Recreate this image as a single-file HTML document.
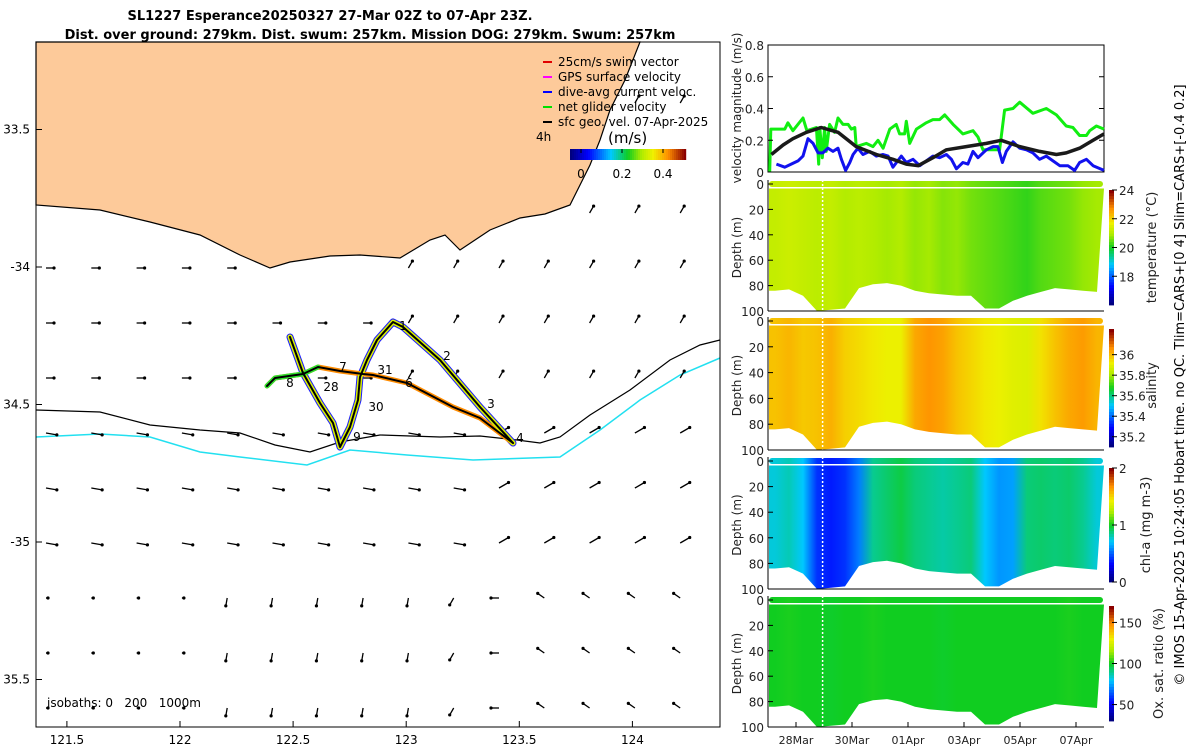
<!DOCTYPE html>
<html><head><meta charset="utf-8">
<style>
html,body{margin:0;padding:0;background:#fff;}
svg{display:block;font-family:"DejaVu Sans","Liberation Sans",sans-serif;}
</style></head>
<body>
<svg id="fig" width="1200" height="750" viewBox="0 0 1200 750" xmlns="http://www.w3.org/2000/svg">
  <defs id="defs"></defs>
  <g font-weight="bold" font-size="13" text-anchor="middle" fill="#000">
    <text x="330" y="20">SL1227 Esperance20250327 27-Mar 02Z to 07-Apr 23Z.</text>
    <text x="370" y="39">Dist. over ground: 279km. Dist. swum: 257km. Mission DOG: 279km. Swum: 257km</text>
  </g>
  <g id="map"></g>
  <g id="right"></g>
  <text transform="translate(1184,385) rotate(-90)" text-anchor="middle" font-size="13" fill="#000">© IMOS 15-Apr-2025 10:24:05 Hobart time. no QC. Tlim=CARS+[0 4] Slim=CARS+[-0.4 0.2]</text>
</svg>
<script>
// ---------- data ----------
const greenDays=[0.06,0.1,0.6,0.71,0.89,1.25,1.39,1.73,1.81,1.85,1.94,2.02,2.08,2.2,2.38,2.5,2.68,2.86,2.98,3.1,3.15,3.33,3.51,3.75,3.93,4.11,4.35,4.58,4.7,4.88,4.94,5.06,5.3,5.65,5.89,6.13,6.31,6.61,6.96,7.32,7.5,7.68,8.27,8.45,8.75,8.99,9.46,9.94,10.3,10.65,10.89,11.13,11.37,11.49,11.73,12];
const greenVals=[0,0.27,0.27,0.31,0.26,0.34,0.26,0.28,0.05,0.28,0.09,0.28,0.13,0.3,0.25,0.34,0.3,0.3,0.27,0.28,0.16,0.17,0.18,0.16,0.2,0.15,0.27,0.3,0.24,0.24,0.32,0.18,0.27,0.31,0.33,0.33,0.36,0.3,0.24,0.26,0.22,0.14,0.14,0.39,0.4,0.44,0.37,0.4,0.36,0.29,0.28,0.23,0.23,0.26,0.29,0.27];
const blueDays=[0.3,0.6,0.83,1.07,1.25,1.43,1.61,1.79,1.96,2.14,2.32,2.5,2.62,2.77,2.92,3.04,3.21,3.39,3.63,3.87,4.11,4.29,4.46,4.76,4.94,5.18,5.42,5.65,5.89,6.13,6.37,6.55,6.73,6.96,7.14,7.32,7.5,7.68,7.8,8.04,8.21,8.37,8.51,8.75,8.99,9.23,9.46,9.7,9.94,10.18,10.42,10.71,10.95,11.13,11.37,11.61,12];
const blueVals=[0.05,0.03,0.05,0.07,0.1,0.21,0.18,0.12,0.12,0.15,0.13,0.15,0.08,0.01,0.06,0.11,0.15,0.11,0.13,0.1,0.11,0.1,0.03,0.1,0.06,0.08,0.04,0.07,0.1,0.09,0.11,0.08,0.02,0.06,0.05,0.13,0.09,0.12,0.14,0.16,0.16,0.06,0.13,0.19,0.15,0.14,0.12,0.08,0.1,0.07,0.04,0.04,0.01,0.06,0.08,0.04,0.01];
const blackDays=[0.12,0.54,0.89,1.37,1.9,2.5,3.15,3.87,4.46,4.94,5.36,5.89,6.37,7.08,7.8,8.33,8.99,9.7,10.3,10.65,11.13,11.61,12];
const blackVals=[0.11,0.17,0.21,0.25,0.28,0.25,0.16,0.11,0.08,0.05,0.04,0.09,0.14,0.16,0.18,0.2,0.16,0.13,0.11,0.12,0.15,0.2,0.24];
const velTicks=[0,0.2,0.4,0.6,0.8];
const dateLabels=["28Mar","30Mar","01Apr","03Apr","05Apr","07Apr"];
const dateDays=[1,3,5,7,9,11];
const tempStripes=[21.2,21.3,21.2,21.1,21.2,21.0,21.1,21.0,20.9,21.0,20.8,20.9,20.7,20.8,20.6,20.5,20.4,20.3,20.2,20.4,20.5,20.6,20.8,20.9];
const salStripes=[36.0,36.02,35.99,36.0,36.03,35.98,35.96,35.94,35.92,35.92,36.04,36.07,36.05,36.0,35.97,35.94,35.92,35.9,35.89,35.95,36.0,36.04,36.06,36.02];
const chlStripes=[0.75,0.8,0.7,0.4,0.35,0.4,0.55,0.85,0.9,0.95,0.88,0.85,0.82,0.85,0.88,0.7,0.6,0.62,0.88,0.9,0.88,0.9,0.85,0.75];
const oxStripes=[100,101,100,100,99,100,100,101,100,100,100,100,99,100,100,100,100,100,100,100,100,101,100,100];
const bottomDepth=[84,83,88,100,99,98,82,79,78,80,84,86,87,88,88,98,98,92,88,85,82,83,84,85];
const latTicks=[-33.5,-34,-34.5,-35,-35.5];
const lonTicks=[121.5,122,122.5,123,123.5,124];

// ---------- helpers ----------
const NS="http://www.w3.org/2000/svg";
function mk(tag,attrs,parent){const e=document.createElementNS(NS,tag);for(const k in attrs)e.setAttribute(k,attrs[k]);parent.appendChild(e);return e;}
function txt(s,attrs,parent){const e=mk('text',attrs,parent);e.textContent=s;return e;}
const stops=[[0,[0,0,127]],[0.15,[0,0,255]],[0.35,[0,200,255]],[0.5,[16,205,32]],[0.62,[176,236,0]],[0.72,[240,240,0]],[0.85,[255,144,0]],[1,[139,0,0]]];
function cmap(t){t=Math.max(0,Math.min(1,t));for(let i=1;i<stops.length;i++){if(t<=stops[i][0]){const a=stops[i-1],b=stops[i];const f=(t-a[0])/(b[0]-a[0]);const c=a[1].map((v,j)=>Math.round(v+(b[1][j]-v)*f));return `rgb(${c})`;}}return 'rgb(139,0,0)';}
const defs=document.getElementById('defs');

// ---------- map ----------
const map=document.getElementById('map');
const MX0=36,MX1=720,MY0=42,MY1=727;
const lonX=l=>180+(l-122)*226.2;
const latY=l=>267+(-34-l)*275;
mk('rect',{x:MX0,y:MY0,width:MX1-MX0,height:MY1-MY0,fill:'#fff'},map);
const land=mk('path',{d:'M36,42 L640,42 L625,80 L610,110 L600,140 L590,165 L580,185 L570,205 L545,214 L520,218 L490,230 L475,240 L460,250 L445,235 L430,240 L400,258 L360,255 L330,256 L290,262 L270,268 L240,255 L200,235 L150,222 L100,210 L36,205 Z',fill:'#fdca9a',stroke:'#000','stroke-width':1.2},map);


const iso200=mk('path',{d:'M36,410 L100,412 L150,425 L200,430 L240,433 L275,445 L310,452 L340,442 L380,435 L440,437 L480,436 L517,440 L540,443 L560,437 L590,415 L630,390 L670,360 L700,345 L720,340',fill:'none',stroke:'#000','stroke-width':1.2},map);


const iso1000=mk('path',{d:'M36,437 L100,434 L150,437 L200,452 L240,457 L307,465 L350,450 L407,455 L473,460 L530,458 L560,457 L600,430 L640,400 L680,375 L720,358',fill:'none',stroke:'#22e0f0','stroke-width':1.5},map);


function coastY(x){const pts=[[36,205],[100,210],[150,222],[200,235],[240,255],[270,268],[330,256],[400,258],[430,240],[460,250],[490,230],[545,214],[570,205],[590,165],[610,110],[640,42],[720,42]];for(let i=1;i<pts.length;i++){if(x<=pts[i][0]){const a=pts[i-1],b=pts[i];return a[1]+(b[1]-a[1])*(x-a[0])/(b[0]-a[0]);}}return 42;}
const arrG=mk('g',{},map);


for(let c=0;c<15;c++){for(let r=0;r<13;r++){const x=46+c*45.3,y=708-r*55;if(y<coastY(x)+12)continue;
  let ang,len;
  if(y>560){ang=c<4?0:(c<9?100:(c<10?120:(c<11?180:-145)));len=c<4?2:8;}
  else if(y>400){ang=c<10?10:-30;len=11;}
  else{ang=c<8?0:-60;len=8;}
  const rad=ang*Math.PI/180,x2=x+len*Math.cos(rad),y2=y+len*Math.sin(rad);
  mk('line',{x1:x,y1:y,x2:x2,y2:y2,stroke:'#000','stroke-width':1.3},arrG);
  mk('circle',{cx:x2,cy:y2,r:1.6,fill:'#000'},arrG);}}
const trackPts='267,386 275,378 303,374 318,367 340,371 363,374 373,375 407,383 453,407 480,418 513,443';
const trackPts2='290,337 303,373 320,403 333,423 340,447 350,427 358,400 360,377 367,360 377,340 393,322 403,327 440,360 480,407 513,443';
const tg=mk('g',{fill:'none','stroke-linejoin':'round','stroke-linecap':'round'},map);


mk('polyline',{points:trackPts2,stroke:'#1a1aff','stroke-width':7},tg);
mk('polyline',{points:trackPts,stroke:'#ff8c00','stroke-width':5},tg);
mk('polyline',{points:trackPts2,stroke:'#d8f000','stroke-width':5},tg);
mk('polyline',{points:'267,386 275,378 303,374 318,367',stroke:'#30e030','stroke-width':5},tg);
mk('polyline',{points:trackPts,stroke:'#000','stroke-width':2},tg);
mk('polyline',{points:trackPts2,stroke:'#000','stroke-width':2},tg);
const dayLabels=[["1",403,330],["2",447,360],["3",491,408],["4",520,442],["6",409,387],["31",385,374],["7",343,371],["8",290,387],["28",331,391],["30",376,411],["9",357,441]];
for(const d of dayLabels){const t=txt(d[0],{x:d[1],y:d[2],'font-size':12,'text-anchor':'middle'},map);
  
  }
mk('rect',{x:MX0,y:MY0,width:MX1-MX0,height:MY1-MY0,fill:'none',stroke:'#000','stroke-width':1},map);
for(const l of lonTicks){const x=lonX(l);mk('line',{x1:x,y1:MY1,x2:x,y2:MY1-6,stroke:'#000'},map);
  const t=txt(String(l),{x:x,y:744,'font-size':12,'text-anchor':'middle'},map);
  
  }
for(const l of latTicks){const y=latY(l);mk('line',{x1:MX0,y1:y,x2:MX0+6,y2:y,stroke:'#000'},map);
  const t=txt(l===-34||l===-35?String(l):String(-l),{x:30,y:y+4,'font-size':12,'text-anchor':'end'},map);
  
  }
const iso=txt('isobaths: 0   200   1000m',{x:47,y:707,'font-size':12,'xml:space':'preserve',style:'white-space:pre'},map);


const lg=mk('g',{'font-size':12},map);


const legItems=[['25cm/s swim vector','#e00000'],['GPS surface velocity','#ff00ff'],['dive-avg current veloc.','#0000ff'],['net glider velocity','#00e000'],['sfc geo. vel. 07-Apr-2025','#000']];
legItems.forEach((it,i)=>{const y=66+i*15;mk('line',{x1:543,y1:y-4,x2:552,y2:y-4,stroke:it[1],'stroke-width':2},lg);const t=txt(it[0],{x:558,y:y},lg);
  
  });
txt('4h',{x:536,y:141},lg);
txt('(m/s)',{x:608,y:143,'font-size':15},lg);
for(let i=0;i<58;i++){mk('rect',{x:570+i*2,y:149,width:2.2,height:11,fill:cmap(i/57)},lg);}
[[581,'0'],[622,'0.2'],[663,'0.4']].forEach(a=>{mk('line',{x1:a[0],y1:149,x2:a[0],y2:153,stroke:'#000'},lg);txt(a[1],{x:a[0],y:178,'text-anchor':'middle'},lg);});

// ---------- right panels ----------
const R=document.getElementById('right');
const PX0=768,PX1=1104;
const dayX=d=>PX0+d*28;
const VY0=45,VY1=172;
const velY=v=>VY1-v/0.8*(VY1-VY0);
const vp=mk('g',{},R);


mk('rect',{x:PX0,y:VY0,width:PX1-PX0,height:VY1-VY0,fill:'#fff',stroke:'#000'},vp);
function series(days,vals,col,w,name){const pts=days.map((d,i)=>dayX(d).toFixed(1)+','+velY(vals[i]).toFixed(1)).join(' ');const p=mk('polyline',{points:pts,fill:'none',stroke:col,'stroke-width':w,'stroke-linejoin':'round'},vp);
  
  }
series(greenDays,greenVals,'#11ee11',3,'net-glider-velocity-line');
series(blueDays,blueVals,'#1111ee',3,'dive-avg-current-line');
series(blackDays,blackVals,'#1a1a1a',3.5,'sfc-geo-velocity-line');
for(const v of velTicks){const y=velY(v);mk('line',{x1:PX0,y1:y,x2:PX0+5,y2:y,stroke:'#000'},vp);mk('line',{x1:PX1,y1:y,x2:PX1-5,y2:y,stroke:'#000'},vp);
  const t=txt(String(v),{x:764,y:y+5,'font-size':12,'text-anchor':'end',fill:'#222'},vp);
  
  }
txt('velocity magnitude (m/s)',{transform:'translate(741,108) rotate(-90)','text-anchor':'middle','font-size':12,fill:'#222'},vp);

const panels=[
 {top:184,bot:311,vals:tempStripes,lo:16,hi:24,cbTop:190,cbBot:305,ticks:[18,20,22,24],label:'temperature (°C)',lx:1156,name:'temperature-section'},
 {top:321,bot:450,vals:salStripes,lo:35.1,hi:36.25,cbTop:329,cbBot:447,ticks:[35.2,35.4,35.6,35.8,36],label:'salinity',lx:1156,name:'salinity-section'},
 {top:461,bot:589,vals:chlStripes,lo:0,hi:2,cbTop:468,cbBot:582,ticks:[0,1,2],label:'chl-a (mg m-3)',lx:1150,name:'chlorophyll-section'},
 {top:600,bot:727,vals:oxStripes,lo:30,hi:170,cbTop:606,cbBot:721,ticks:[50,100,150],label:'Ox. sat. ratio (%)',lx:1163,name:'oxygen-section'}];
panels.forEach((P,pi)=>{
  const g=mk('g',{},R);
  
  
  const dY=m=>P.top+m*(P.bot-P.top)/100;
  const n=P.vals.length;
  const gid='grad'+pi;
  const gr=mk('linearGradient',{id:gid,x1:PX0,x2:PX1,y1:0,y2:0,gradientUnits:'userSpaceOnUse'},defs);
  for(let i=0;i<n;i++){mk('stop',{offset:((i+0.5)/n).toFixed(4),'stop-color':cmap((P.vals[i]-P.lo)/(P.hi-P.lo))},gr);}
  mk('rect',{x:PX0+1,y:dY(0)-3,width:PX1-PX0-2,height:6,rx:3,fill:`url(#${gid})`},g);
  let d=`M${PX0+1},${dY(3.5)} L${PX1},${dY(3.5)}`;
  for(let i=n-1;i>=0;i--){const x=dayX((i+0.5)*12/n);d+=` L${x.toFixed(1)},${dY(bottomDepth[i]).toFixed(1)}`;}
  d+=` L${PX0+1},${dY(bottomDepth[0]).toFixed(1)} Z`;
  const body=mk('path',{d:d,fill:`url(#${gid})`,'stroke-linejoin':'round'},g);
  
  
  mk('line',{x1:dayX(1.95),y1:dY(0)-4,x2:dayX(1.95),y2:dY(100),stroke:'#fff','stroke-width':1.5,'stroke-dasharray':'2,2'},g);
  mk('line',{x1:PX0,y1:dY(0)-4,x2:PX0,y2:P.bot,stroke:'#000'},g);
  mk('line',{x1:PX0,y1:P.bot,x2:PX1,y2:P.bot,stroke:'#000'},g);
  for(let m=0;m<=100;m+=20){const y=dY(m);mk('line',{x1:PX0,y1:y,x2:PX0+5,y2:y,stroke:'#000'},g);
    const t=txt(String(m),{x:764,y:y+5,'font-size':12,'text-anchor':'end',fill:'#222'},g);
    
    }
  txt('Depth (m)',{transform:`translate(741,${(P.top+P.bot)/2}) rotate(-90)`,'text-anchor':'middle','font-size':12,fill:'#222'},g);
  const cb=mk('g',{},g);
  
  
  const N=40,h=(P.cbBot-P.cbTop)/N;
  for(let i=0;i<N;i++)mk('rect',{x:1109,y:P.cbBot-(i+1)*h,width:5,height:h+0.4,fill:cmap(i/(N-1))},cb);
  for(const tv of P.ticks){const y=P.cbBot-(tv-P.lo)/(P.hi-P.lo)*(P.cbBot-P.cbTop);mk('line',{x1:1112,y1:y,x2:1117,y2:y,stroke:'#000'},cb);
    txt(String(tv),{x:1119,y:y+5,'font-size':12,fill:'#222'},cb);}
  txt(P.label,{transform:`translate(${P.lx},${(P.top+P.bot)/2}) rotate(-90)`,'text-anchor':'middle','font-size':13,fill:'#222'},g);
});
dateLabels.forEach((s,i)=>{const x=dayX(dateDays[i]);mk('line',{x1:x,y1:727,x2:x,y2:722,stroke:'#000'},R);
  const t=txt(s,{x:x,y:744,'font-size':11,'text-anchor':'middle',fill:'#222'},R);
  
  });
</script>
</body></html>
